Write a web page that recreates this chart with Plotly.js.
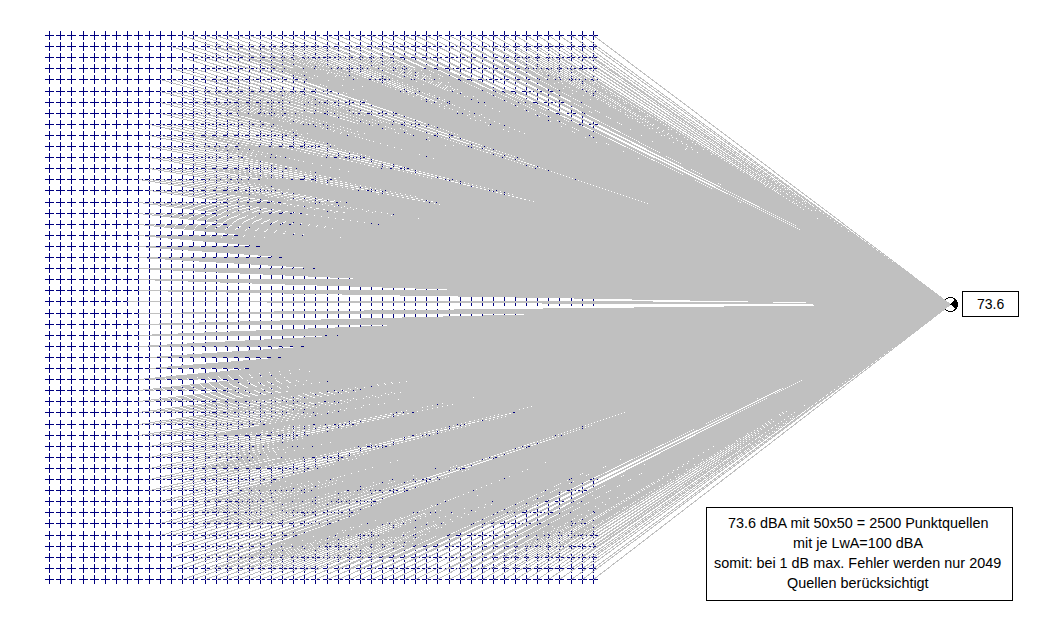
<!DOCTYPE html>
<html>
<head>
<meta charset="utf-8">
<script src="https://cdn.plot.ly/plotly-3.0.1.min.js"></script>
<style>
body { margin: 0; background: #fff; }
#plot path { shape-rendering: crispEdges !important; }
</style>
</head>
<body>
<div id="plot" style="width:1041px;height:617px"></div>
<script>
// source grid (screen units)
var sourceCols = [49,60,71,83,94,105,116,127,138,149,160,171,182,193,205,216,227,238,249,260,271,282,293,304,315,327,338,349,360,371,382,393,404,415,426,437,449,460,471,482,493,504,515,526,537,548,559,571,582,593];
var sourceRows = [35,46,57,68,79,91,102,113,124,135,146,157,168,179,190,202,213,224,235,246,257,268,279,290,301,313,324,335,346,357,368,379,390,401,412,424,435,446,457,468,479,490,501,512,523,535,546,557,568,579];
// first column per row that still counts (2049 sources in total)
var firstCol = [12,11,12,11,10,10,10,10,9,9,9,9,9,8,9,8,8,8,8,8,8,8,8,8,7,8,8,8,8,9,9,8,8,8,8,8,8,9,9,9,9,9,10,10,10,10,11,11,11,12];
var receiverX = 950;
var receiverY = 304;
var resultLabel = "73.6";
var noteLines = [
	"73.6 dBA mit 50x50 = 2500 Punktquellen",
	"mit je LwA=100 dBA",
	"somit: bei 1 dB max. Fehler werden nur 2049",
	"Quellen berücksichtigt"
];
var noteY = [522.5, 542, 562.5, 582.5];

var W = 1041, H = 617;

var gridX = [], gridY = [];
for (var r = 0; r < sourceRows.length; r++) {
	for (var c = 0; c < sourceCols.length; c++) {
		gridX.push(sourceCols[c]);
		gridY.push(sourceRows[r]);
	}
}

var rayX = [], rayY = [];
for (var r = 0; r < sourceRows.length; r++) {
	for (var c = firstCol[r]; c < sourceCols.length; c++) {
		rayX.push(sourceCols[c], receiverX, null);
		rayY.push(sourceRows[r], receiverY, null);
	}
}

var sources = {
	x: gridX, y: gridY, mode: 'markers', type: 'scatter',
	marker: {symbol: 'cross-thin', size: 6.6, color: '#000080', line: {color: '#000080', width: 1}}
};
var receiver = {
	x: [receiverX], y: [receiverY], mode: 'markers', type: 'scatter',
	marker: {symbol: 'circle', size: 14, color: '#ffffff', line: {color: '#000000', width: 1}}
};
var rays = {
	x: rayX, y: rayY, mode: 'lines', type: 'scatter',
	line: {color: '#c0c0c0', width: 1, simplify: false}
};

// black wedge of the receiver symbol
var wr = 7.2;
var wedge = 'M ' + receiverX + ' ' + receiverY +
	' L ' + (receiverX + wr * 0.72) + ' ' + (receiverY - wr * 0.72) +
	' Q ' + (receiverX + wr * 1.25) + ' ' + receiverY + ' ' + (receiverX + wr * 0.72) + ' ' + (receiverY + wr * 0.72) + ' Z';

var annotations = [{
	x: 990, y: 303, xanchor: 'center', yanchor: 'middle', text: resultLabel, showarrow: false,
	font: {family: 'Liberation Sans', size: 14, color: '#000'}
}];
for (var i = 0; i < noteLines.length; i++) {
	annotations.push({
		x: 857, y: noteY[i], xanchor: 'center', yanchor: 'middle', text: noteLines[i], showarrow: false,
		font: {family: 'Liberation Sans', size: 14.4, color: '#000'}
	});
}

var layout = {
	width: W, height: H,
	margin: {l: 0, r: 0, t: 0, b: 0},
	showlegend: false,
	hovermode: false,
	paper_bgcolor: '#ffffff',
	plot_bgcolor: '#ffffff',
	xaxis: {visible: false, range: [-0.5, W - 0.5]},
	yaxis: {visible: false, range: [H - 0.5, -0.5]},
	shapes: [
		{type: 'path', path: wedge, fillcolor: '#000000', line: {color: '#000000', width: 0}},
		{type: 'rect', x0: 962, x1: 1018, y0: 291, y1: 316, line: {color: '#000000', width: 1}},
		{type: 'rect', x0: 706, x1: 1012, y0: 507, y1: 600, line: {color: '#000000', width: 1}}
	],
	annotations: annotations
};

Plotly.newPlot('plot', [sources, receiver, rays], layout, {displayModeBar: false, staticPlot: true});
</script>
</body>
</html>
